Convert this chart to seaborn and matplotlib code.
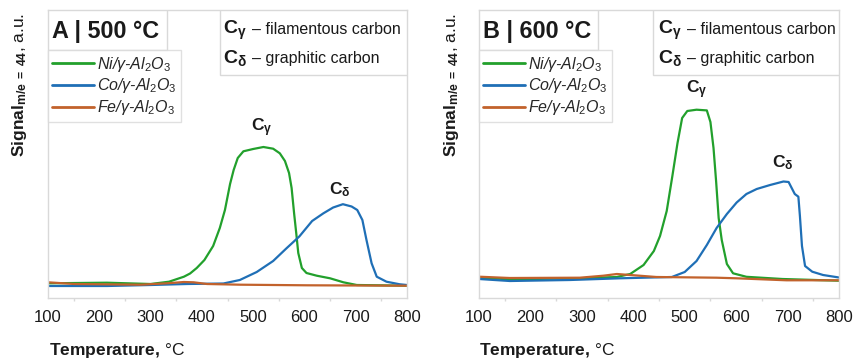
import numpy as np
import pandas as pd
import matplotlib
matplotlib.use("Agg")
import matplotlib.pyplot as plt
from matplotlib.patches import Rectangle
import seaborn as sns

# ---------------- data (signal in arbitrary units) ----------------
# Panel A, 500 °C
ni500_T = [100, 215, 300, 336, 365, 377, 390, 405, 422, 435, 445, 455, 462, 470, 481, 500, 520, 539, 552, 562, 570, 575, 580, 584, 588, 595, 604, 624, 650, 676, 702, 800]
ni500_S = [14.7, 15.3, 14, 16.3, 21.3, 24.5, 30, 38, 52, 70, 88, 114, 128, 140, 146.7, 149, 151, 149.3, 144.7, 137, 125, 110, 84, 65, 45, 30, 25, 22.3, 19.7, 15.7, 13, 12.3]
co500_T = [100, 215, 300, 371, 442, 474, 507, 539, 565, 590, 615, 637, 656, 675, 692, 703, 713, 721, 731, 741, 760, 786, 800]
co500_S = [12, 12, 13, 14, 14.5, 18, 26, 37, 49.7, 61.5, 77, 84.7, 90.5, 93.8, 91.5, 88, 78, 58, 34.7, 21.3, 16.3, 13.7, 13]
fe500_T = [100, 151, 281, 332, 365, 384, 410, 475, 605, 800]
fe500_S = [15.7, 14, 13.3, 14.7, 16, 15.7, 14, 13.3, 12.7, 12.3]

# Panel B, 600 °C
ni600_T = [100, 160, 296, 368, 394, 420, 440, 452, 465, 476, 486, 495, 505, 523, 543, 550, 556, 561, 566, 572, 582, 594, 620, 690, 800]
ni600_S = [20.3, 18.7, 19.7, 21, 24, 33, 47, 62, 87, 122, 155, 180, 187, 188.3, 187.6, 176, 150, 117, 80, 58, 34, 24.7, 21.2, 19, 17.3]
co600_T = [100, 160, 277, 374, 475, 500, 523, 543, 562, 582, 601, 620, 640, 666, 692, 702, 708, 714, 721, 724, 728, 734, 748, 769, 800]
co600_S = [19, 17, 18, 19.7, 21, 26, 37, 53, 70, 84, 95.5, 104, 109, 113, 116.5, 116, 110, 104, 101.3, 82, 52, 32, 26.3, 23, 20.5]
fe600_T = [100, 160, 296, 342, 368, 394, 445, 562, 601, 698, 800]
fe600_S = [21.3, 20, 20.3, 22.3, 24, 23, 21, 20.3, 19.7, 17.7, 17.7]

catalysts = ["Ni", "Co", "Fe"]
legend_labels = {
    "Ni": r"Ni/γ-Al$_\mathit{2}$O$_\mathit{3}$",
    "Co": r"Co/γ-Al$_\mathit{2}$O$_\mathit{3}$",
    "Fe": r"Fe/γ-Al$_\mathit{2}$O$_\mathit{3}$",
}
panel_titles = ["A | 500 °C", "B | 600 °C"]
xticks = [100, 200, 300, 400, 500, 600, 700, 800]

def frame(series):
    rows = []
    for cat, (T, S) in zip(catalysts, series):
        for t, s in zip(T, S):
            rows.append({"T": t, "S": s, "cat": legend_labels[cat]})
    return pd.DataFrame(rows)

df500 = frame([(ni500_T, ni500_S), (co500_T, co500_S), (fe500_T, fe500_S)])
df600 = frame([(ni600_T, ni600_S), (co600_T, co600_S), (fe600_T, fe600_S)])

# ---------------- style ----------------
sns.set_theme(style="white")
FONT = "Liberation Sans"
plt.rcParams["font.family"] = [FONT, "DejaVu Sans"]
plt.rcParams["mathtext.fontset"] = "custom"
plt.rcParams["mathtext.rm"] = FONT
plt.rcParams["mathtext.it"] = FONT + ":italic"
plt.rcParams["mathtext.bf"] = FONT + ":bold"

palette = {
    legend_labels["Ni"]: "#22a02c",
    legend_labels["Co"]: "#1f6fb6",
    legend_labels["Fe"]: "#c2622c",
}
GRAY = "#d9d9d9"
TXT = "#1a1a1a"

fig = plt.figure(figsize=(8.55, 3.6), dpi=100)
W, H = 855, 360
axes = [
    fig.add_axes([48 / W, (H - 298) / H, 359 / W, 288 / H]),
    fig.add_axes([479 / W, (H - 298) / H, 360 / W, 288 / H]),
]

peak_labels = [
    [(517, 170, r"$\mathbf{C}_{\mathbf{γ}}$"), (669, 108, r"$\mathbf{C}_{\mathbf{δ}}$")],
    [(524, 208, r"$\mathbf{C}_{\mathbf{γ}}$"), (691, 135, r"$\mathbf{C}_{\mathbf{δ}}$")],
]

for i, (ax, df) in enumerate(zip(axes, [df500, df600])):
    sns.lineplot(data=df, x="T", y="S", hue="cat", palette=palette,
                 estimator=None, sort=True, linewidth=1.6, ax=ax)
    ax.set_xlim(100, 800)
    ax.set_ylim(0, 288)
    ax.set_yticks([])
    ax.set_xticks(xticks)
    ax.set_xticks(np.arange(150, 800, 100), minor=True)
    ax.set_xticklabels([str(t) for t in xticks], fontsize=12, color=TXT)
    ax.tick_params(axis="x", which="major", direction="out", length=4, color=GRAY, width=1, pad=5)
    ax.tick_params(axis="x", which="minor", direction="out", length=2.5, color=GRAY, width=1, bottom=True)
    for sp in ax.spines.values():
        sp.set_color(GRAY)
        sp.set_linewidth(1)
    ax.set_xlabel("")
    ax.set_ylabel("")

    # title box
    ax.add_patch(Rectangle((0, 0.861), 0.331, 0.139, transform=ax.transAxes,
                           facecolor="white", edgecolor=GRAY, lw=1, zorder=5))
    ax.text(0.011, 0.927, panel_titles[i], transform=ax.transAxes, fontsize=16.8,
            fontweight="bold", color=TXT, va="center", ha="left", zorder=6)

    # legend
    leg = ax.legend(loc="upper left", bbox_to_anchor=(0, 0.861), borderaxespad=0,
                    frameon=True, fancybox=False, edgecolor=GRAY, handlelength=2.6,
                    handletextpad=0.2, labelspacing=0.18, borderpad=0.28,
                    prop={"style": "italic", "size": 11.5})
    leg.get_frame().set_linewidth(1)
    leg.set_zorder(6)
    for line in leg.get_lines():
        line.set_linewidth(2)

    # annotation box
    x0 = 0.479 if i == 0 else 0.483
    xc = 0.488 if i == 0 else 0.496
    xd = 0.568 if i == 0 else 0.577
    ax.add_patch(Rectangle((x0, 0.774), 1 - x0, 0.226, transform=ax.transAxes,
                           facecolor="white", edgecolor=GRAY, lw=1, zorder=5))
    for yb, sym, txt in [(0.917, r"$\mathbf{C}_{\mathbf{γ}}$", "– filamentous carbon"),
                         (0.816, r"$\mathbf{C}_{\mathbf{δ}}$", "– graphitic carbon")]:
        ax.text(xc, yb, sym, transform=ax.transAxes, fontsize=14, color=TXT,
                va="baseline", ha="left", zorder=6)
        ax.text(xd, yb, txt, transform=ax.transAxes, fontsize=11.5, color=TXT,
                va="baseline", ha="left", zorder=6)

    for (tx, ty, s) in peak_labels[i]:
        ax.text(tx, ty, s, fontsize=12.5, color=TXT, ha="center", va="center")

# axis labels
for xl, yl in [(20, 49), (451, 479)]:
    fig.text(xl / W, 1 - 13 / H, r"$\mathbf{Signal}_{\mathbf{m/e\ =\ 44}}$, a.u.",
             rotation=90, va="top", ha="center", fontsize=12.5, color=TXT)
    fig.text(yl / W, 1 - 350 / H, r"$\mathbf{Temperature,}\,$°C", va="center",
             ha="left", fontsize=12.5, color=TXT)

fig.savefig("out.png", dpi=100)
